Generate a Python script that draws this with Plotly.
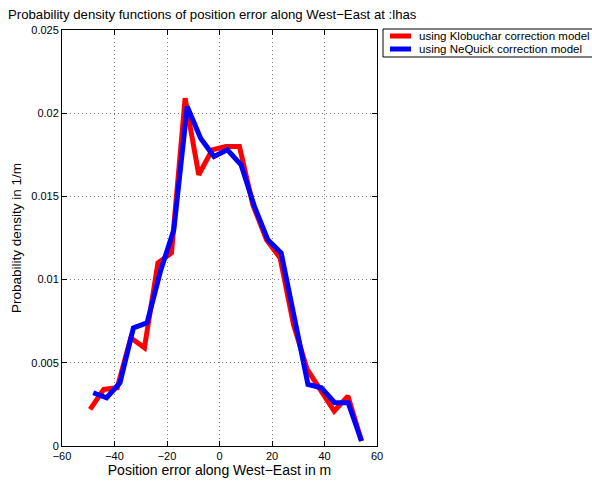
import plotly.graph_objects as go

# Data
klob_x = [-49.3, -44.1, -38.95, -33.8, -28.6, -23.45, -18.3, -13.1, -7.9, -2.8, 2.4,
          7.6, 12.7, 17.9, 23.1, 28.2, 33.4, 38.6, 43.7, 48.9, 54.1]
klob_y = [0.0022, 0.0034, 0.0035, 0.0065, 0.0059, 0.0110, 0.0116, 0.0209, 0.0163, 0.0178, 0.0180,
          0.0180, 0.0145, 0.0124, 0.0113, 0.0073, 0.0046, 0.0033, 0.0021, 0.0030, 0.0003]
neq_x = [-48.1, -43.0, -37.9, -32.8, -27.6, -22.5, -17.4, -12.3, -7.2, -2.1, 3.0,
         8.2, 13.3, 18.4, 23.5, 28.6, 33.7, 38.8, 43.9, 49.0, 54.1]
neq_y = [0.0032, 0.0029, 0.0038, 0.0071, 0.0074, 0.0105, 0.0130, 0.0204, 0.0185, 0.0174, 0.0178,
         0.0169, 0.0144, 0.0124, 0.0116, 0.0075, 0.0037, 0.0035, 0.0026, 0.0026, 0.0003]

series_names = ["using Klobuchar correction model", "using NeQuick correction model"]
series_colors = ["#ff0000", "#0000ff"]

x_ticks = [-60, -40, -20, 0, 20, 40, 60]
y_ticks = [0, 0.005, 0.01, 0.015, 0.02, 0.025]
y_tick_labels = ["0", "0.005", "0.01", "0.015", "0.02", "0.025"]

FONT = "Liberation Sans, Arial, Helvetica, sans-serif"

# plot area in pixels
L, R, T, B = 62, 377, 30, 446
W, H = 592, 481


def px_x(p):
    return (p - L) / (R - L)


def px_y(p):
    return (B - p) / (B - T)


fig = go.Figure()
for xs, ys, name, col in [(klob_x, klob_y, series_names[0], series_colors[0]),
                          (neq_x, neq_y, series_names[1], series_colors[1])]:
    fig.add_trace(go.Scatter(x=xs, y=ys, mode="lines",
                             line=dict(color=col, width=5), name=name, showlegend=False))

axis_common = dict(showline=True, linecolor="black", linewidth=1, mirror="ticks",
                   ticks="inside", ticklen=5, tickcolor="black",
                   showgrid=True, gridcolor="#777777", griddash="1px,3px", gridwidth=1,
                   zeroline=False, automargin=False,
                   tickfont=dict(family=FONT, size=11, color="black"))

fig.update_xaxes(range=[-60, 60], tickvals=x_ticks, **axis_common,
                 title=dict(text="Position error along West\u2212East in m",
                            font=dict(family=FONT, size=14, color="black"), standoff=2))
fig.update_yaxes(range=[0, 0.025], tickvals=y_ticks, ticktext=y_tick_labels, **axis_common,
                 title=dict(text="Probability density in 1/m",
                            font=dict(family=FONT, size=13.5, color="black"), standoff=6))

# manual legend (MATLAB style, partly cut off at the right edge)
shapes = [dict(type="rect", xref="paper", yref="paper",
               x0=px_x(383), x1=px_x(600), y0=px_y(57), y1=px_y(29),
               line=dict(color="black", width=1), fillcolor="white", layer="above")]
annotations = []
for i, (name, col) in enumerate(zip(series_names, series_colors)):
    yc = 36 + i * 13
    shapes.append(dict(type="line", xref="paper", yref="paper",
                       x0=px_x(390), x1=px_x(411), y0=px_y(yc), y1=px_y(yc),
                       line=dict(color=col, width=5), layer="above"))
    annotations.append(dict(text=name, xref="paper", yref="paper",
                            x=px_x(417), y=px_y(yc), xanchor="left", yanchor="middle",
                            showarrow=False, font=dict(family=FONT, size=11.5, color="black")))

fig.update_layout(
    width=W, height=H,
    margin=dict(l=L, r=W - R, t=T, b=H - B, autoexpand=False),
    paper_bgcolor="white", plot_bgcolor="white",
    font=dict(family=FONT, size=11, color="black"),
    title=dict(text="Probability density functions of position error along West\u2212East at :lhas",
               x=8 / W, xanchor="left", xref="container", y=1 - 14 / H, yanchor="middle",
               font=dict(family=FONT, size=13.2, color="black")),
    shapes=shapes, annotations=annotations,
    showlegend=False,
)

fig.write_html("out.html")
